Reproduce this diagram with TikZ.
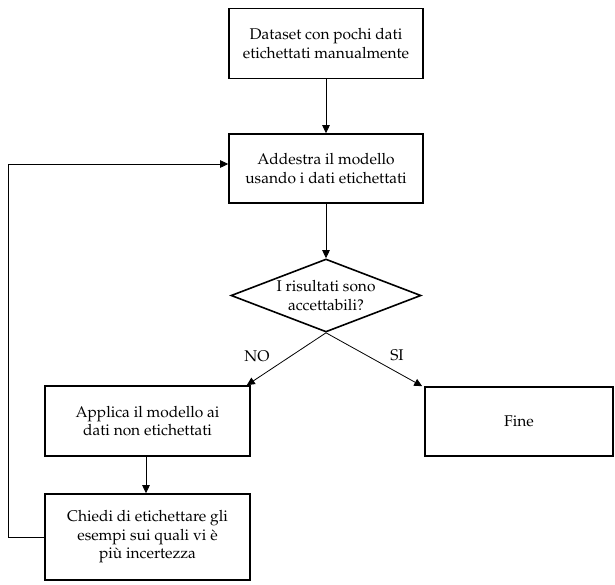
\documentclass[tikz,border=0pt]{standalone}
\usepackage[T1]{fontenc}
\usepackage{mathpazo}
\usetikzlibrary{shapes.geometric,arrows.meta}
\begin{document}
\begin{tikzpicture}[x=1pt,y=-1pt,
  every node/.style={font=\fontsize{15.5}{18.5}\selectfont, align=center},
  stepbox/.style={draw, line width=1.6pt, inner sep=0pt},
  choice/.style={draw, diamond, aspect=2.6, line width=1.6pt, inner sep=0pt},
  arr/.style={line width=0.8pt, -{Triangle[length=8pt,width=7.5pt]}},
  tag/.style={font=\fontsize{15.5}{18.5}\selectfont}]
\useasboundingbox (0,0) rectangle (615,584);

\node[stepbox, minimum width=194pt, minimum height=70pt] (data) at (326,43.5)
  {Dataset con pochi dati\\etichettati manualmente};
\node[stepbox, minimum width=194pt, minimum height=69pt] (train) at (326,168.5)
  {Addestra il modello\\usando i dati etichettati};
\node[choice, minimum width=190pt, minimum height=73pt] (check) at (326,295.5)
  {I risultati sono\\accettabili?};
\node[stepbox, minimum width=205pt, minimum height=70pt] (apply) at (147.5,421)
  {Applica il modello ai\\dati non etichettati};
\node[stepbox, minimum width=188pt, minimum height=69pt] (fine) at (519,421.5)
  {Fine};
\node[stepbox, minimum width=205pt, minimum height=86pt] (ask) at (147.5,537)
  {Chiedi di etichettare gli\\esempi sui quali vi è\\più incertezza};

\coordinate (loop) at (8,164);

\draw[arr] (data.south) -- (train.north);
\draw[arr] (train.south) -- (check.north);
\draw[arr] (check.south) -- ([xshift=-4pt]apply.north east);
\draw[arr] (check.south) -- ([xshift=-2pt]fine.north west);
\draw[arr] ([xshift=-1.5pt]apply.south) -- ([xshift=-1.5pt]ask.north);
\draw[arr] (ask.west) -| (loop) -- (train.west |- loop);

\node[tag] (no) at (257,356) {NO};
\node[tag] (si) at (397,355) {SI};
\end{tikzpicture}
\end{document}
